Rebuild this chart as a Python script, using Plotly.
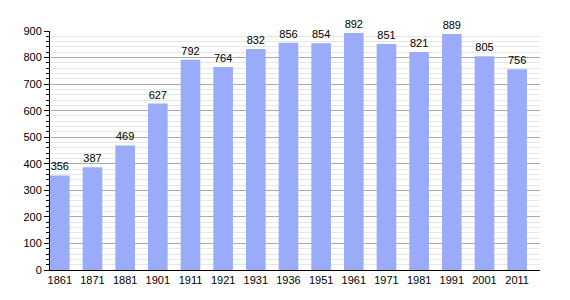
import plotly.graph_objects as go

years = ["1861", "1871", "1881", "1901", "1911", "1921", "1931", "1936", "1951", "1961", "1971", "1981", "1991", "2001", "2011"]
population = [356, 387, 469, 627, 792, 764, 832, 856, 854, 892, 851, 821, 889, 805, 756]

fig = go.Figure()
fig.add_trace(go.Bar(
    x=list(range(len(years))), y=population,
    width=0.6,
    marker=dict(color="#9aabfa", line=dict(width=0)),
    text=[str(v) for v in population], textposition="outside",
    textfont=dict(family="Liberation Sans, Arial", size=11, color="#000"),
    cliponaxis=False,
))

fig.update_layout(
    width=570, height=300,
    margin=dict(l=50, r=30, t=31, b=30),
    paper_bgcolor="white", plot_bgcolor="white",
    showlegend=False,
    font=dict(family="Liberation Sans, Arial", size=11, color="#000"),
    bargap=0.4,
)
fig.update_xaxes(
    tickmode="array", tickvals=list(range(len(years))), ticktext=years,
    range=[-0.3, 14.7], showline=True, linecolor="#000", linewidth=1,
    ticks="", showgrid=False, zeroline=False,
    tickfont=dict(size=11),
)
fig.update_yaxes(
    range=[0, 900], tickmode="linear", tick0=0, dtick=100,
    showline=True, linecolor="#000", linewidth=1,
    ticks="outside", ticklen=5, tickcolor="#000",
    showgrid=True, gridcolor="#aaaaaa", gridwidth=1,
    minor=dict(dtick=20, showgrid=True, gridcolor="#e6e6e6", ticks="outside", ticklen=3, tickcolor="#000"),
    zeroline=False, tickfont=dict(size=11),
)
fig.write_html("out.html")
